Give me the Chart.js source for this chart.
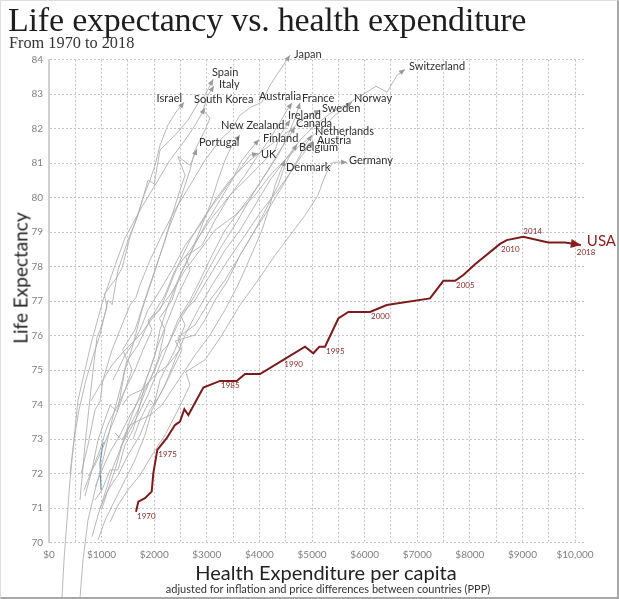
<!DOCTYPE html>
<html>
<head>
<meta charset="utf-8">
<script src="https://cdn.jsdelivr.net/npm/chart.js@4"></script>
<style>
  html, body { margin: 0; padding: 0; background: #fff; }
  #wrap { position: relative; width: 619px; height: 599px; overflow: hidden; background: #fff; }
  #frame { position: absolute; left: 0; top: 0; width: 619px; height: 599px; box-sizing: border-box;
           border-left: 1px solid #ddd; border-top: 1px solid #ddd; border-right: 2px solid #a8a8a8; border-bottom: 2px solid #a8a8a8; pointer-events: none; }
  .t { position: absolute; white-space: nowrap; }
  #title { left: 8px; top: 3px; font: 34px/34px "Liberation Serif", "DejaVu Serif", serif; color: #1e1e1e; letter-spacing: -0.2px; }
  #subtitle { left: 9px; top: 35px; font: 16.3px/16.3px "Liberation Serif", "DejaVu Serif", serif; color: #333; }
  #ytitle { left: 20px; top: 278px; font: 19px/19px Lato, sans-serif; color: #222; transform: translate(-50%, -50%) rotate(-90deg); }
  #xtitle { left: 326px; top: 572px; font: 20px/20px Lato, sans-serif; color: #222; transform: translate(-50%, -50%); }
  #xsub { left: 328px; top: 588px; font: 11px/11px Lato, sans-serif; color: #333; transform: translate(-50%, -50%); }
</style>
</head>
<body>
<div id="wrap">
  <canvas id="c" width="619" height="599"></canvas>
  <div class="t" id="title">Life expectancy vs. health expenditure</div>
  <div class="t" id="subtitle">From 1970 to 2018</div>
  <div class="t" id="ytitle">Life Expectancy</div>
  <div class="t" id="xtitle">Health Expenditure per capita</div>
  <div class="t" id="xsub">adjusted for inflation and price differences between countries (PPP)</div>
  <div id="frame"></div>
</div>
<script>
// ---- Data: [health expenditure per capita (PPP $), life expectancy (years)] ----
const usa = [[1654,70.90],[1698,71.19],[1825,71.29],[1952,71.48],[1983,72.01],[2059,72.69],[2237,73.03],[2395,73.41],[2490,73.51],[2573,73.87],[2649,73.70],[2934,74.50],[3251,74.69],[3568,74.69],[3726,74.89],[4011,74.89],[4455,75.30],[4867,75.68],[5024,75.49],[5139,75.68],[5247,75.68],[5500,76.50],[5690,76.69],[6103,76.69],[6420,76.89],[7243,77.08],[7497,77.59],[7719,77.59],[7877,77.76],[8099,78.07],[8574,78.66],[8701,78.77],[9017,78.87],[9492,78.70],[9810,78.70],[10110,78.63]];
const usaYears = ['1970','','','','','1975','','','','','','','1985','','','','1990','','','','1995','','','2000','','','','2005','','','2010','','2014','','','2018'];

const japan = [[608,71.99],[741,72.83],[875,73.85],[970,74.10],[1027,74.72],[1198,75.59],[1350,76.17],[1540,76.89],[1650,77.10],[1730,77.47],[1920,78.19],[2148,78.92],[2395,79.64],[2681,80.36],[2966,81.09],[3251,81.67],[3450,81.95],[3631,82.39],[3830,82.62],[4049,82.77],[4202,83.26],[4392,83.70],[4582,84.13]];
const switzerland = [[1597,73.00],[1730,73.56],[1920,74.14],[2000,74.00],[2110,74.72],[2395,75.59],[2586,76.31],[2500,76.60],[2776,77.03],[3061,77.75],[3346,78.48],[3631,79.06],[3916,79.78],[4202,80.51],[4487,81.09],[4772,81.67],[5057,82.10],[5380,82.48],[5627,82.68],[5913,82.94],[6217,83.23],[6426,83.06],[6616,83.55],[6768,83.72]];
const spain = [[399,71.99],[475,72.98],[570,73.85],[703,74.72],[875,75.59],[970,76.02],[1122,77.03],[1200,76.90],[1312,77.90],[1502,78.77],[1692,79.49],[1882,80.51],[2000,80.40],[2110,81.38],[2395,81.81],[2643,82.25],[2871,82.83],[2966,82.97],[3061,83.26],[3118,83.43]];
const italy = [[684,71.35],[817,72.11],[932,72.98],[1160,73.99],[1300,73.80],[1445,75.01],[1597,75.73],[1768,76.75],[1958,77.61],[2110,78.33],[2300,79.20],[2490,79.93],[2681,80.80],[2776,81.38],[2966,81.96],[3061,82.31],[2928,82.54],[3023,82.97],[3137,83.24]];
const israel = [[589,71.24],[684,72.83],[741,73.64],[817,74.72],[913,75.96],[970,76.16],[1103,76.83],[1050,77.20],[1293,77.70],[1388,77.96],[1540,78.86],[1654,79.35],[1787,79.99],[1920,80.51],[2015,80.94],[2110,81.52],[2262,82.11],[2414,82.48],[2567,82.77]];
const southKorea = [[247,68.39],[285,69.49],[342,70.65],[399,71.81],[475,72.98],[551,74.13],[684,75.01],[817,75.87],[1027,77.03],[1255,78.04],[1445,78.83],[1730,79.64],[2015,80.36],[2300,81.09],[2586,81.67],[2776,82.10],[2966,82.60]];
const portugal = [[589,68.39],[646,69.49],[741,70.65],[875,71.52],[1027,72.40],[1198,73.56],[1350,74.43],[1483,75.30],[1400,75.60],[1635,76.17],[1882,77.32],[2110,78.33],[2205,78.77],[2338,79.49],[2490,80.22],[2586,80.65],[2450,81.20],[2681,80.94],[2814,81.41]];
const australia = [[1008,71.00],[1122,71.53],[1255,72.11],[1388,72.83],[1540,73.56],[1730,74.28],[1920,75.01],[2072,75.73],[2262,76.46],[2452,77.18],[2681,77.90],[2600,78.30],[2909,78.62],[3156,79.35],[3441,80.07],[3726,80.65],[3973,81.23],[4202,81.72],[4392,82.19],[4525,82.54],[4620,82.75]];
const france = [[875,71.61],[1008,72.11],[1160,72.63],[1350,73.12],[1540,73.70],[1768,74.28],[2015,75.01],[2150,75.55],[2262,75.73],[2490,76.46],[2776,77.18],[3023,77.90],[3289,78.62],[3593,79.35],[3859,80.07],[4106,80.65],[4354,81.23],[4544,81.81],[4677,82.31],[4772,82.75]];
const norway = [[798,74.11],[970,74.57],[1198,75.15],[1445,75.59],[1730,76.02],[2015,76.60],[2300,77.18],[2586,77.90],[2871,78.48],[3156,79.06],[3536,79.49],[3916,80.07],[4202,80.65],[4487,81.09],[4772,81.52],[5152,81.96],[5437,82.39],[5760,82.77]];
const sweden = [[1217,74.72],[1312,75.01],[1445,75.44],[1578,75.73],[1730,76.17],[1882,76.75],[2110,77.32],[2338,77.90],[2586,78.62],[2871,79.20],[3156,79.93],[3441,80.51],[3821,81.09],[4202,81.52],[4582,81.96],[4867,82.31],[5152,82.54]];
const ireland = [[665,71.52],[817,72.11],[970,72.69],[1084,73.27],[1160,73.56],[1312,73.99],[1445,74.43],[1578,75.01],[1500,75.30],[1692,75.73],[1920,76.46],[2205,77.18],[2395,77.90],[2681,78.48],[3061,79.35],[3441,80.07],[3821,80.65],[4106,81.09],[4297,81.38],[4392,81.81],[4582,82.25]];
const canada = [[1350,72.74],[1540,73.27],[1692,73.70],[1882,74.28],[2072,75.01],[2262,75.73],[2452,76.46],[2681,77.03],[2871,77.61],[3099,78.33],[3346,79.06],[3631,79.64],[3916,80.22],[4163,80.80],[4392,81.38],[4544,81.72],[4677,82.05]];
const newZealand = [[875,71.24],[1008,71.53],[1160,72.11],[1312,72.11],[1445,72.83],[1597,73.27],[1730,73.99],[1844,74.72],[2015,75.44],[2110,76.17],[2262,76.89],[2452,77.61],[2681,78.33],[2871,79.06],[3061,79.78],[3213,80.51],[3346,81.09],[3479,81.52],[3631,81.82]];
const netherlands = [[1388,73.99],[1540,74.28],[1768,74.43],[2015,74.86],[2262,75.15],[2490,75.59],[2400,75.85],[2776,76.02],[2966,76.46],[3156,77.03],[3403,77.61],[3631,78.33],[3916,79.06],[4163,79.64],[4392,80.22],[4620,80.80],[4772,81.23],[4867,81.52],[5000,81.82]];
const finland = [[817,70.17],[932,70.80],[1084,71.53],[1198,72.11],[1350,72.69],[1502,73.27],[1692,73.85],[1882,74.57],[2072,75.30],[2205,76.17],[2100,76.50],[2338,77.03],[2490,77.75],[2719,78.48],[2966,79.20],[3251,79.93],[3479,80.51],[3669,81.09],[3821,81.38],[3992,81.69]];
const austria = [[932,70.08],[1065,70.65],[1255,71.24],[1445,71.82],[1635,72.40],[1825,73.12],[1958,73.85],[2205,74.57],[2395,75.30],[2586,76.02],[2833,76.75],[3099,77.47],[3403,78.19],[3726,78.91],[4049,79.64],[4354,80.22],[4620,80.80],[4810,81.23],[5019,81.64]];
const belgium = [[970,71.00],[1122,71.53],[1312,71.96],[1502,72.54],[1730,73.12],[1920,73.85],[2110,74.28],[2300,74.86],[2529,75.59],[2450,75.95],[2776,76.31],[3061,77.03],[3346,77.61],[3631,78.33],[3916,79.06],[4163,79.78],[4354,80.36],[4487,80.94],[4582,81.23],[4715,81.55]];
const uk = [[741,71.93],[875,72.25],[1008,72.69],[1160,73.27],[1312,73.85],[1445,74.43],[1635,75.01],[1787,75.59],[1958,76.17],[1880,76.45],[2110,76.75],[2262,77.32],[2452,78.04],[2681,78.77],[2966,79.49],[3251,80.07],[3536,80.65],[3726,81.03],[3821,81.23],[3973,81.29]];
const denmark = [[1255,73.18],[1388,72.98],[1540,73.41],[1730,73.56],[1920,73.70],[2148,73.99],[2338,74.43],[2529,74.86],[2776,75.44],[3061,76.02],[3346,76.75],[3593,77.47],[3821,78.25],[4049,79.06],[4202,79.78],[4297,80.36],[4392,80.74],[4487,81.09]];
const germany = [[1160,70.60],[1312,71.09],[1502,71.53],[1730,71.96],[1958,72.54],[2205,73.12],[2452,73.85],[2681,74.57],[2600,74.95],[2966,75.30],[3289,76.02],[3631,76.89],[3973,77.61],[4297,78.33],[4582,78.91],[4867,79.49],[5114,80.07],[5228,80.56],[5304,80.80],[5399,81.03],[5665,81.03]];
const unlabeled = [[989,71.53],[970,72.31],[1027,72.89],[1065,72.89]];

const countryNames = ['Japan','Switzerland','Spain','Italy','Israel','South Korea','Australia','France','Norway','Sweden','Ireland','Canada','New Zealand','Netherlands','Portugal','Finland','Austria','Belgium','UK','Denmark','Germany'];
const countrySeries = [japan, switzerland, spain, italy, israel, southKorea, australia, france, norway, sweden, ireland, canada, newZealand, netherlands, portugal, finland, austria, belgium, uk, denmark, germany];

const yTickValues = [70,71,72,73,74,75,76,77,78,79,80,81,82,83,84];
const xGridValues = [0,500,1000,1500,2000,2500,3000,3500,4000,4500,5000,5500,6000,6500,7000,7500,8000,8500,9000,9500,10000];
const xTickLabels = {0:'$0',1000:'$1000',2000:'$2000',3000:'$3000',4000:'$4000',5000:'$5000',6000:'$6000',7000:'$7000',8000:'$8000',9000:'$9000',10000:'$10,000'};

// ---- Label placement (pixel offsets from the end of each line) ----
const labelPlace = {
  'Japan':[4,-1,'left'], 'Switzerland':[4,-2.5,'left'], 'Spain':[-1,-7,'left'], 'Italy':[5,-1,'left'],
  'Israel':[-2,-4,'right'], 'South Korea':[-11,-9,'left'], 'Australia':[-33,-6,'left'], 'France':[2,-4,'left'],
  'Norway':[2,-4,'left'], 'Sweden':[2,-2,'left'], 'Ireland':[-2,-5,'left'], 'Canada':[1,-4,'left'],
  'New Zealand':[-19,-9,'left'], 'Netherlands':[3,-3,'left'], 'Portugal':[2,-7,'left'], 'Finland':[4,-1,'left'],
  'Austria':[4,-1,'left'], 'Belgium':[2,3,'left'], 'UK':[3,1,'left'], 'Denmark':[1,7,'left'], 'Germany':[2,-2,'left'],
  'USA':[6,-4,'left']
};

const toXY = arr => arr.map(p => ({x: p[0], y: p[1]}));
const GREY = '#b0b0b0';
const USA_RED = '#7d1a1a';

const datasets = countrySeries.map((s, i) => ({
  label: countryNames[i], data: toXY(s), borderColor: GREY, borderWidth: 0.9,
  pointRadius: 0, tension: 0, clip: false, arrow: 'grey'
}));
datasets.push({ label: '', data: toXY(unlabeled), borderColor: '#5f8fad', borderWidth: 1.1, pointRadius: 0, clip: false });
datasets.push({ label: 'USA', data: toXY(usa), borderColor: USA_RED, borderWidth: 2, pointRadius: 0, tension: 0, clip: false, arrow: 'red' });

const annotate = {
  id: 'annotate',
  afterDatasetsDraw(chart) {
    const ctx = chart.ctx;
    const xs = chart.scales.x, ys = chart.scales.y;
    chart.data.datasets.forEach(ds => {
      if (!ds.arrow) return;
      const d = ds.data, n = d.length;
      const x1 = xs.getPixelForValue(d[n-2].x), y1 = ys.getPixelForValue(d[n-2].y);
      const x2 = xs.getPixelForValue(d[n-1].x), y2 = ys.getPixelForValue(d[n-1].y);
      const a = Math.atan2(y2 - y1, x2 - x1);
      const red = ds.arrow === 'red';
      const L = red ? 10 : 6, W = red ? 4.5 : 2.6;
      ctx.save();
      ctx.fillStyle = red ? '#8a1c1c' : '#9a9a9a';
      ctx.beginPath();
      ctx.moveTo(x2, y2);
      ctx.lineTo(x2 - L*Math.cos(a) + W*Math.sin(a), y2 - L*Math.sin(a) - W*Math.cos(a));
      ctx.lineTo(x2 - L*Math.cos(a) - W*Math.sin(a), y2 - L*Math.sin(a) + W*Math.cos(a));
      ctx.closePath();
      ctx.fill();
      const pl = labelPlace[ds.label];
      if (pl) {
        ctx.font = red ? '15px Lato, sans-serif' : '11px Lato, sans-serif';
        ctx.fillStyle = red ? '#8a1c1c' : '#2e2e2e';
        ctx.textAlign = pl[2];
        ctx.textBaseline = 'middle';
        ctx.fillText(ds.label, x2 + pl[0], y2 + pl[1]);
      }
      ctx.restore();
    });
    ctx.save();
    ctx.font = '8px Lato, sans-serif';
    ctx.fillStyle = '#8a2a2a';
    ctx.textAlign = 'left';
    usa.forEach((p, i) => {
      const yr = usaYears[i];
      if (!yr) return;
      const px = xs.getPixelForValue(p[0]), py = ys.getPixelForValue(p[1]);
      if (yr === '2014') { ctx.textBaseline = 'bottom'; ctx.fillText(yr, px, py - 1); }
      else if (yr === '2018') { ctx.textBaseline = 'top'; ctx.fillText(yr, px - 4, py + 3); }
      else { ctx.textBaseline = 'top'; ctx.fillText(yr, px + 1, py + 1); }
    });
    ctx.restore();
  }
};

new Chart(document.getElementById('c'), {
  type: 'line',
  data: { datasets },
  plugins: [annotate],
  options: {
    responsive: false,
    animation: false,
    devicePixelRatio: 1,
    layout: { padding: { top: 59.7, right: 35, bottom: 0, left: 0 } },
    plugins: { legend: { display: false }, tooltip: { enabled: false }, title: { display: false } },
    scales: {
      x: {
        type: 'linear', min: 0, max: 10170,
        afterBuildTicks: s => { s.ticks = xGridValues.map(v => ({ value: v })); },
        afterFit: s => { s.height = 56.3; },
        grid: { color: '#c4c4c4', lineWidth: 1, drawTicks: false },
        border: { display: false, dash: [2, 2] },
        ticks: {
          autoSkip: false, maxRotation: 0, padding: 6, color: '#808080',
          font: { family: 'Lato', size: 10 },
          callback: v => xTickLabels[v] !== undefined ? xTickLabels[v] : ''
        }
      },
      y: {
        type: 'linear', min: 70, max: 84,
        afterBuildTicks: s => { s.ticks = yTickValues.map(v => ({ value: v })); },
        afterFit: s => { s.width = 49; },
        grid: { color: '#c4c4c4', lineWidth: 1, drawTicks: false },
        border: { display: true, color: '#d2d2d2', width: 2, dash: [2, 2] },
        ticks: { padding: 6, color: '#808080', font: { family: 'Lato', size: 10 } }
      }
    }
  }
});
</script>
</body>
</html>
